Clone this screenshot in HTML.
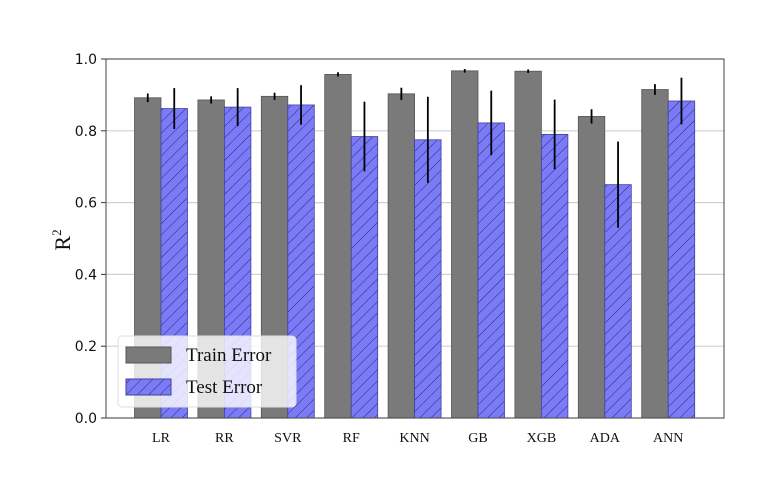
<!DOCTYPE html>
<html><head><meta charset="utf-8"><style>
html,body{margin:0;padding:0;background:#fff;width:775px;height:486px;overflow:hidden}
</style></head><body>
<svg id="c" width="775" height="486">
<defs>
<pattern id="hatch" patternUnits="userSpaceOnUse" width="8" height="8" patternTransform="rotate(45)">
<rect width="8" height="8" fill="#7b7bf7"/>
<line x1="0" y1="0" x2="0" y2="8" stroke="#2a2a70" stroke-width="1"/>
</pattern>
</defs>
</svg>
<script>
const categories=["LR","RR","SVR","RF","KNN","GB","XGB","ADA","ANN"];
const trainValues=[0.892,0.886,0.896,0.957,0.903,0.967,0.966,0.840,0.915];
const trainErr=[0.012,0.010,0.010,0.006,0.017,0.005,0.005,0.020,0.015];
const testValues=[0.862,0.866,0.872,0.784,0.775,0.822,0.790,0.650,0.883];
const testErr=[0.057,0.053,0.055,0.097,0.120,0.090,0.097,0.120,0.065];
const yTicks=["0.0","0.2","0.4","0.6","0.8","1.0"];
const NS="http://www.w3.org/2000/svg";
const svg=document.getElementById('c');
const L=106,R=724,T=59,B=418;
const y=v=>B-(v)*(B-T);
const xc=i=>161+63.4*i;
const bw=26.5;
function el(t,a,p){const e=document.createElementNS(NS,t);for(const k in a)e.setAttribute(k,a[k]);(p||svg).appendChild(e);return e;}
// grid
yTicks.forEach(t=>{const v=parseFloat(t);
 const g=el('line',{x1:L,x2:R,y1:y(v),y2:y(v),stroke:'#d0d0d0','stroke-width':1.2});
 
 
 el('line',{x1:L-5,x2:L,y1:y(v),y2:y(v),stroke:'#333'});
 const tx=el('text',{x:L-9,y:y(v)+5,'text-anchor':'end','font-family':'DejaVu Sans, sans-serif','font-size':14,fill:'#111'});
 tx.textContent=t;
 
 
});
categories.forEach((c,i)=>{
 const cx=xc(i);
 const tb=el('rect',{x:cx-bw,y:y(trainValues[i]),width:bw,height:B-y(trainValues[i]),fill:'#7a7a7a',stroke:'#555','stroke-width':0.8});
 
 
 const sb=el('rect',{x:cx,y:y(testValues[i]),width:bw,height:B-y(testValues[i]),fill:'url(#hatch)',stroke:'#4040a0','stroke-width':0.8});
 
 
 const e1=el('line',{x1:cx-bw/2,x2:cx-bw/2,y1:y(trainValues[i]+trainErr[i]),y2:y(trainValues[i]-trainErr[i]),stroke:'#000','stroke-width':1.8});
 
 
 const e2=el('line',{x1:cx+bw/2,x2:cx+bw/2,y1:y(testValues[i]+testErr[i]),y2:y(testValues[i]-testErr[i]),stroke:'#000','stroke-width':1.8});
 
 
 const t=el('text',{x:cx,y:442,'text-anchor':'middle','font-family':'Liberation Serif, serif','font-size':14,fill:'#111'});
 t.textContent=c;
 
 
});
const ax=el('rect',{x:L,y:T,width:R-L,height:B-T,fill:'none',stroke:'#444','stroke-width':1});


const yl=el('text',{x:0,y:0,transform:'translate(70,240) rotate(-90)','text-anchor':'middle','font-family':'Liberation Serif, serif','font-size':22,fill:'#111'});
yl.innerHTML='R<tspan font-size="13" dy="-9">2</tspan>';


// legend
const lg=el('g',{});


el('rect',{x:118,y:336,width:178,height:71,rx:4,fill:'rgba(255,255,255,0.8)',stroke:'#ddd'},lg);
el('rect',{x:126,y:347,width:45,height:16,fill:'#7a7a7a',stroke:'#555'},lg);
el('rect',{x:126,y:379,width:45,height:16,fill:'url(#hatch)',stroke:'#4040a0'},lg);
const l1=el('text',{x:186,y:361,'font-family':'Liberation Serif, serif','font-size':19,fill:'#111'},lg);l1.textContent='Train Error';


const l2=el('text',{x:186,y:393,'font-family':'Liberation Serif, serif','font-size':19,fill:'#111'},lg);l2.textContent='Test Error';


</script>
</body></html>
